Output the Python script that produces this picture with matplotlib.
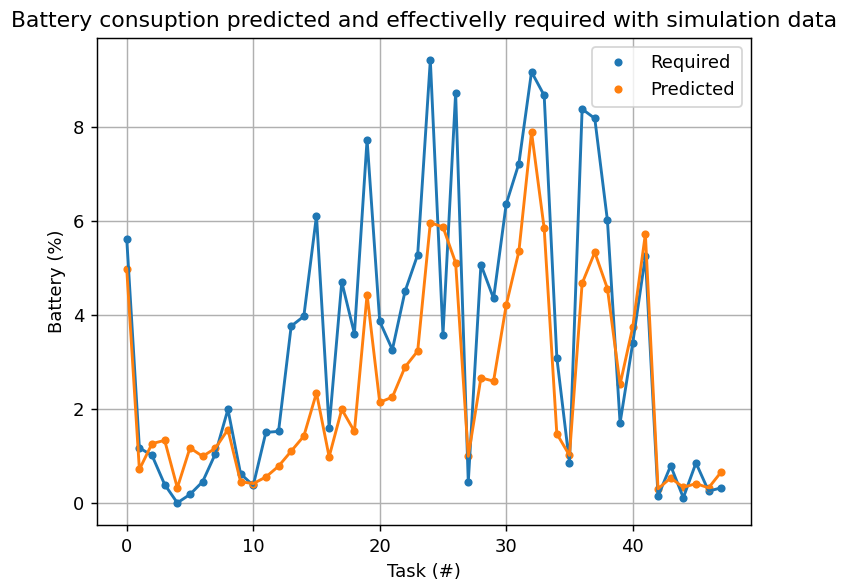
import matplotlib
matplotlib.use("Agg")
import matplotlib.pyplot as plt

required = [5.62, 1.17, 1.01, 0.39, 0.0, 0.18, 0.45, 1.04, 1.99, 0.62, 0.37, 1.50, 1.52, 3.76, 3.97, 6.11,
            1.60, 4.70, 3.60, 7.73, 3.86, 3.26, 4.50, 5.28, 9.42, 3.58, 8.72, 0.44, 5.07, 4.35, 6.36, 7.22,
            9.17, 8.67, 3.09, 0.85, 8.38, 8.18, 6.01, 1.70, 3.40, 5.25, 0.14, 0.79, 0.11, 0.85, 0.25, 0.32]
predicted = [4.98, 0.71, 1.26, 1.33, 0.32, 1.17, 0.99, 1.16, 1.56, 0.45, 0.41, 0.55, 0.78, 1.10, 1.42, 2.34,
             0.98, 1.99, 1.52, 4.43, 2.14, 2.25, 2.89, 3.23, 5.96, 5.87, 5.11, 0.99, 2.66, 2.59, 4.21, 5.35,
             7.89, 5.84, 1.47, 1.01, 4.67, 5.33, 4.56, 2.52, 3.74, 5.72, 0.30, 0.53, 0.33, 0.41, 0.32, 0.66]
tasks = list(range(len(required)))

dpi = 130
fig = plt.figure(figsize=(841 / dpi, 582 / dpi), dpi=dpi)
ax = fig.add_axes([97 / 841, 1 - 525 / 582, (751 - 97) / 841, (525 - 38) / 582])

ax.plot(tasks, required, '.', color='C0', markersize=7, label='Required')
ax.plot(tasks, predicted, '.', color='C1', markersize=7, label='Predicted')
ax.plot(tasks, required, '-', color='C0', linewidth=1.6)
ax.plot(tasks, predicted, '-', color='C1', linewidth=1.6)

ax.set_title('Battery consuption predicted and effectivelly required with simulation data',
             fontsize=12.1)
ax.set_xlabel('Task (#)')
ax.set_ylabel('Battery (%)')
ax.grid(True)
ax.legend(loc='upper right')

fig.savefig('out.png', dpi=dpi)
